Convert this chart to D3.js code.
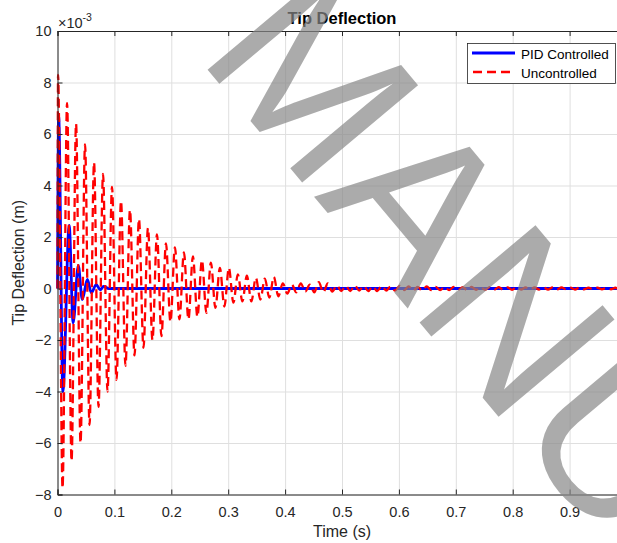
<!DOCTYPE html>
<html>
<head>
<meta charset="utf-8">
<script src="https://cdn.jsdelivr.net/npm/d3@7"></script>
<style>
  body { margin: 0; background: #fff; }
  svg { display: block; font-family: "Liberation Sans", Arial, sans-serif; }
  .tick text { fill: #262626; font-size: 14.5px; }
</style>
</head>
<body>
<div id="chart"></div>
<script>
// deflection values are in units of 1e-3 m (axis shows x10^-3)
const xTicks = [0, 0.1, 0.2, 0.3, 0.4, 0.5, 0.6, 0.7, 0.8, 0.9, 1.0];
const yTicks = [-8, -6, -4, -2, 0, 2, 4, 6, 8, 10];

// PID controlled response (peaks)
const pidTime = [0, 0.002, 0.0095, 0.0205, 0.0275, 0.0365, 0.0435, 0.0525, 0.0595, 0.068, 0.075, 0.081, 0.09, 1.0];
const pidDefl = [0, 6.7, -4.0, 2.45, -1.33, 0.9, -0.43, 0.35, -0.17, 0.15, -0.05, 0.08, 0, 0];

// Uncontrolled response: successive peaks of the oscillation
const uncTime = [0,
  0.0010, 0.0089, 0.0168, 0.0247, 0.0326, 0.0405, 0.0484, 0.0563, 0.0642, 0.0721,
  0.0800, 0.0879, 0.0958, 0.1037, 0.1116, 0.1195, 0.1274, 0.1353, 0.1432, 0.1511,
  0.1590, 0.1669, 0.1748, 0.1827, 0.1906, 0.1985, 0.2064, 0.2143, 0.2222, 0.2301,
  0.2380, 0.2459, 0.2538, 0.2617, 0.2696, 0.2775, 0.2854, 0.2933, 0.3012, 0.3091,
  0.3170, 0.3249, 0.3328, 0.3407, 0.3486, 0.3565, 0.3644, 0.3723, 0.3802, 0.3881,
  0.3960, 0.4039, 0.4118, 0.4197, 0.4276, 0.4355, 0.4434, 0.4513, 0.4592, 0.4671,
  0.4750, 0.4829, 0.4908, 0.4987, 0.5066, 0.5145, 0.5224, 0.5303, 0.5382, 0.5461,
  0.5540, 0.5619, 0.5698, 0.5777, 0.5856, 0.5935, 0.6014, 0.6093, 0.6172, 0.6251,
  0.6330, 0.6409, 0.6488, 0.6567, 0.6646, 0.6725, 0.6804, 0.6883, 0.6962, 0.7041,
  0.7120, 0.7199, 0.7278, 0.7357, 0.7436, 0.7515, 0.7594, 0.7673, 0.7752, 0.7831,
  0.7910, 0.7989, 0.8068, 0.8147, 0.8226, 0.8305, 0.8384, 0.8463, 0.8542, 0.8621,
  0.8700, 0.8779, 0.8858, 0.8937, 0.9016, 0.9095, 0.9174, 0.9253, 0.9332, 0.9411,
  0.9490, 0.9569, 0.9648, 0.9727, 0.9806, 0.9885, 0.9964, 1.0];
const uncDefl = [0,
  8.3, -7.75, 7.2, -6.7, 6.4, -6.0, 5.6, -5.3, 4.9, -4.6,
  4.45, -4.0, 3.95, -3.55, 3.4, -3.0, 3.05, -2.6, 2.7, -2.3,
  2.35, -2.0, 2.1, -1.85, 1.75, -1.3, 1.6, -1.2, 1.4, -1.2,
  1.25, -1.1, 1.1, -0.95, 1.0, -0.75, 0.8, -0.7, 0.8, -0.55,
  0.55, -0.5, 0.5, -0.5, 0.42, -0.43, 0.38, -0.35, 0.45, -0.3,
  0.2, -0.2, 0.15, -0.15, 0.2, -0.12, 0.15, -0.15, 0.25, -0.15,
  0.2, -0.12, 0.12, -0.1, 0.1, -0.1, 0.12, -0.08, 0.1, -0.1,
  0.08, -0.1, 0.1, -0.08, 0.08, -0.08, 0.1, -0.06, 0.08, -0.08,
  0.06, -0.08, 0.08, -0.06, 0.06, -0.06, 0.06, -0.06, 0.06, -0.05,
  0.05, -0.06, 0.06, -0.05, 0.05, -0.05, 0.05, -0.05, 0.05, -0.04,
  0.04, -0.05, 0.05, -0.04, 0.04, -0.04, 0.04, -0.04, 0.04, -0.04,
  0.04, -0.04, 0.04, -0.03, 0.03, -0.04, 0.04, -0.03, 0.03, -0.03,
  0.03, -0.03, 0.03, -0.03, 0.03, -0.03, 0.03, 0];

const W = 617, H = 543;
const margin = { top: 31, left: 57.5 };
const plotW = 569, plotH = 463.5;

const svg = d3.select("#chart").append("svg")
    .attr("width", W)
    .attr("height", H);

svg.append("rect").attr("width", W).attr("height", H).attr("fill", "#fff");

const g = svg.append("g").attr("transform", `translate(${margin.left},${margin.top})`);

const x = d3.scaleLinear().domain([0, 1]).range([0, plotW]);
const y = d3.scaleLinear().domain([-8, 10]).range([plotH, 0]);

// grid
g.append("g")
    .attr("transform", `translate(0,${plotH})`)
    .call(d3.axisBottom(x).tickValues(xTicks).tickSize(-plotH).tickFormat(""))
    .call(a => a.select(".domain").remove())
    .selectAll("line").attr("stroke", "#dfdfdf").attr("stroke-width", 1);
g.append("g")
    .call(d3.axisLeft(y).tickValues(yTicks).tickSize(-plotW).tickFormat(""))
    .call(a => a.select(".domain").remove())
    .selectAll("line").attr("stroke", "#dfdfdf").attr("stroke-width", 1);

// data lines
const pidLine = d3.line()
    .x((d, i) => x(pidTime[i]))
    .y(d => y(d))
    .curve(d3.curveMonotoneX);
const uncLine = d3.line()
    .x((d, i) => x(uncTime[i]))
    .y(d => y(d))
    .curve(d3.curveMonotoneX);

g.append("path")
    .attr("d", pidLine(pidDefl))
    .attr("fill", "none")
    .attr("stroke", "#0000ff")
    .attr("stroke-width", 2.8);

g.append("path")
    .attr("d", uncLine(uncDefl))
    .attr("fill", "none")
    .attr("stroke", "#ff0000")
    .attr("stroke-width", 2.3)
    .attr("stroke-dasharray", "9,5");

// axes (box with inward ticks); the 1.0 tick sits past the right edge
const axisColor = "#262626";
const xAxis = g.append("g")
    .attr("transform", `translate(0,${plotH})`)
    .call(d3.axisBottom(x).tickValues(xTicks).tickSize(-5).tickPadding(12)
        .tickFormat(d => d >= 1 ? "" : d3.format("~g")(d)));
const xTop = g.append("g")
    .call(d3.axisTop(x).tickValues(xTicks).tickSize(-5).tickFormat(""));
const yAxis = g.append("g")
    .call(d3.axisLeft(y).tickValues(yTicks).tickSize(-5).tickPadding(6));

[xAxis, xTop, yAxis].forEach(a => {
    a.select(".domain").attr("stroke", axisColor).attr("stroke-width", 1);
    a.selectAll(".tick line").attr("stroke", axisColor);
    a.selectAll("text").attr("font-family", "'Liberation Sans', Arial, sans-serif");
});

// exponent label
const expo = svg.append("text")
    .attr("x", 58)
    .attr("y", 27.5)
    .attr("fill", axisColor)
    .style("font-size", "14.5px");
expo.append("tspan").text("\u00d710");
expo.append("tspan").attr("dy", -7).style("font-size", "10.5px").text("-3");

// title and axis labels
svg.append("text")
    .attr("x", margin.left + plotW / 2)
    .attr("y", 24)
    .attr("text-anchor", "middle")
    .style("font-size", "16.5px")
    .style("font-weight", "bold")
    .attr("fill", "#000")
    .text("Tip Deflection");

svg.append("text")
    .attr("x", margin.left + plotW / 2)
    .attr("y", 537)
    .attr("text-anchor", "middle")
    .style("font-size", "16px")
    .attr("fill", axisColor)
    .text("Time (s)");

svg.append("text")
    .attr("transform", `translate(24,${margin.top + plotH / 2}) rotate(-90)`)
    .attr("text-anchor", "middle")
    .style("font-size", "16px")
    .attr("fill", axisColor)
    .text("Tip Deflection (m)");

// legend
const legend = svg.append("g");
legend.append("rect")
    .attr("x", 467.5).attr("y", 43.5)
    .attr("width", 148).attr("height", 40)
    .attr("fill", "#fff")
    .attr("stroke", axisColor)
    .attr("stroke-width", 0.8);
legend.append("line")
    .attr("x1", 472).attr("x2", 515).attr("y1", 53).attr("y2", 53)
    .attr("stroke", "#0000ff").attr("stroke-width", 2.8);
legend.append("line")
    .attr("x1", 472).attr("x2", 515).attr("y1", 72).attr("y2", 72)
    .attr("stroke", "#ff0000").attr("stroke-width", 2.3)
    .attr("stroke-dasharray", "9,5").attr("stroke-dashoffset", -1);
legend.append("text").attr("x", 521).attr("y", 58.5)
    .style("font-size", "13.5px").attr("fill", "#000").text("PID Controlled");
legend.append("text").attr("x", 521).attr("y", 77.5)
    .style("font-size", "13.5px").attr("fill", "#000").text("Uncontrolled");

// manuscript watermark (only "MANU" falls inside the picture)
svg.append("text")
    .attr("transform", "translate(196,56) rotate(50)")
    .attr("fill", "#888")
    .attr("fill-opacity", 0.7)
    .style("font-size", "220px")
    .text("MANU");
</script>
</body>
</html>
